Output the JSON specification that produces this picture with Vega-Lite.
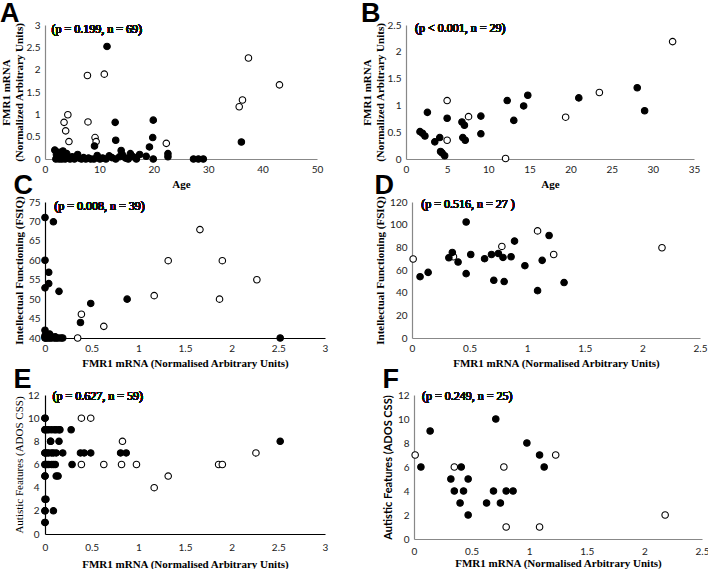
{
  "$schema": "https://vega.github.io/schema/vega-lite/v6.json",
  "padding": {"left": 0, "top": 0, "right": 2, "bottom": 0},
  "background": "white",
  "datasets": {
    "A": [
      {"x": 7.8, "y": 1.87, "t": "open"}, {"x": 10.9, "y": 1.9, "t": "open"}, {"x": 37.4, "y": 2.26, "t": "open"},
      {"x": 43.1, "y": 1.66, "t": "open"}, {"x": 35.7, "y": 1.17, "t": "open"}, {"x": 36.3, "y": 1.32, "t": "open"},
      {"x": 4.2, "y": 0.99, "t": "open"}, {"x": 3.5, "y": 0.82, "t": "open"}, {"x": 3.8, "y": 0.63, "t": "open"},
      {"x": 4.4, "y": 0.39, "t": "open"}, {"x": 7.9, "y": 0.83, "t": "open"}, {"x": 9.2, "y": 0.48, "t": "open"},
      {"x": 9.4, "y": 0.39, "t": "open"}, {"x": 22.3, "y": 0.35, "t": "open"},
      {"x": 11.4, "y": 2.52, "t": "filled"}, {"x": 12.9, "y": 0.82, "t": "filled"}, {"x": 13.0, "y": 0.42, "t": "filled"},
      {"x": 19.9, "y": 0.87, "t": "filled"}, {"x": 19.8, "y": 0.48, "t": "filled"}, {"x": 19.2, "y": 0.27, "t": "filled"},
      {"x": 36.1, "y": 0.38, "t": "filled"}, {"x": 9.1, "y": 0.29, "t": "filled"}, {"x": 14.0, "y": 0.19, "t": "filled"},
      {"x": 22.6, "y": 0.12, "t": "filled"}, {"x": 22.6, "y": 0.05, "t": "filled"}, {"x": 19.9, "y": 0.0, "t": "filled"},
      {"x": 27.3, "y": 0.0, "t": "filled"}, {"x": 28.2, "y": 0.0, "t": "filled"}, {"x": 29.1, "y": 0.0, "t": "filled"},
      {"x": 1.8, "y": 0.2, "t": "filled"}, {"x": 2.0, "y": 0.0, "t": "filled"}, {"x": 2.1, "y": 0.1, "t": "filled"},
      {"x": 2.3, "y": 0.05, "t": "filled"}, {"x": 2.5, "y": 0.15, "t": "filled"}, {"x": 2.6, "y": 0.0, "t": "filled"},
      {"x": 2.9, "y": 0.08, "t": "filled"}, {"x": 3.1, "y": 0.0, "t": "filled"}, {"x": 3.3, "y": 0.18, "t": "filled"},
      {"x": 3.5, "y": 0.05, "t": "filled"}, {"x": 3.7, "y": 0.0, "t": "filled"}, {"x": 4.0, "y": 0.12, "t": "filled"},
      {"x": 4.2, "y": 0.02, "t": "filled"}, {"x": 4.6, "y": 0.0, "t": "filled"}, {"x": 5.0, "y": 0.05, "t": "filled"},
      {"x": 5.4, "y": 0.0, "t": "filled"}, {"x": 6.0, "y": 0.1, "t": "filled"}, {"x": 6.3, "y": 0.02, "t": "filled"},
      {"x": 6.7, "y": 0.0, "t": "filled"}, {"x": 7.1, "y": 0.03, "t": "filled"}, {"x": 7.5, "y": 0.0, "t": "filled"},
      {"x": 8.0, "y": 0.02, "t": "filled"}, {"x": 8.4, "y": 0.0, "t": "filled"}, {"x": 9.0, "y": 0.0, "t": "filled"},
      {"x": 9.6, "y": 0.08, "t": "filled"}, {"x": 10.1, "y": 0.0, "t": "filled"}, {"x": 10.6, "y": 0.02, "t": "filled"},
      {"x": 11.2, "y": 0.0, "t": "filled"}, {"x": 11.8, "y": 0.07, "t": "filled"}, {"x": 12.3, "y": 0.03, "t": "filled"},
      {"x": 13.0, "y": 0.0, "t": "filled"}, {"x": 13.7, "y": 0.05, "t": "filled"}, {"x": 14.2, "y": 0.1, "t": "filled"},
      {"x": 14.8, "y": 0.02, "t": "filled"}, {"x": 15.3, "y": 0.0, "t": "filled"}, {"x": 15.7, "y": 0.12, "t": "filled"},
      {"x": 16.2, "y": 0.05, "t": "filled"}, {"x": 16.8, "y": 0.0, "t": "filled"}, {"x": 17.4, "y": 0.1, "t": "filled"},
      {"x": 18.6, "y": 0.06, "t": "filled"}
    ],
    "B": [
      {"x": 32.4, "y": 2.19, "t": "open"}, {"x": 23.5, "y": 1.24, "t": "open"}, {"x": 19.4, "y": 0.78, "t": "open"},
      {"x": 5.0, "y": 1.09, "t": "open"}, {"x": 7.6, "y": 0.79, "t": "open"}, {"x": 5.0, "y": 0.35, "t": "open"},
      {"x": 12.1, "y": 0.01, "t": "open"},
      {"x": 1.7, "y": 0.51, "t": "filled"}, {"x": 2.0, "y": 0.48, "t": "filled"}, {"x": 2.3, "y": 0.43, "t": "filled"},
      {"x": 2.6, "y": 0.87, "t": "filled"}, {"x": 3.5, "y": 0.32, "t": "filled"}, {"x": 4.1, "y": 0.4, "t": "filled"},
      {"x": 4.2, "y": 0.14, "t": "filled"}, {"x": 4.4, "y": 0.11, "t": "filled"}, {"x": 4.7, "y": 0.06, "t": "filled"},
      {"x": 5.0, "y": 0.76, "t": "filled"}, {"x": 6.8, "y": 0.69, "t": "filled"}, {"x": 7.1, "y": 0.63, "t": "filled"},
      {"x": 6.9, "y": 0.4, "t": "filled"}, {"x": 7.2, "y": 0.35, "t": "filled"}, {"x": 9.1, "y": 0.8, "t": "filled"},
      {"x": 9.1, "y": 0.47, "t": "filled"}, {"x": 12.3, "y": 1.09, "t": "filled"}, {"x": 13.1, "y": 0.72, "t": "filled"},
      {"x": 14.3, "y": 0.99, "t": "filled"}, {"x": 14.8, "y": 1.19, "t": "filled"}, {"x": 21.0, "y": 1.14, "t": "filled"},
      {"x": 28.1, "y": 1.33, "t": "filled"}, {"x": 29.0, "y": 0.9, "t": "filled"}
    ],
    "C": [
      {"x": 1.66, "y": 67.9, "t": "open"}, {"x": 1.32, "y": 59.9, "t": "open"}, {"x": 1.9, "y": 59.9, "t": "open"},
      {"x": 2.27, "y": 55.0, "t": "open"}, {"x": 1.17, "y": 50.9, "t": "open"}, {"x": 1.87, "y": 50.0, "t": "open"},
      {"x": 0.39, "y": 46.1, "t": "open"}, {"x": 0.63, "y": 43.0, "t": "open"}, {"x": 0.35, "y": 40.0, "t": "open"},
      {"x": 0.0, "y": 71.0, "t": "filled"}, {"x": 0.09, "y": 69.9, "t": "filled"}, {"x": 0.0, "y": 60.0, "t": "filled"},
      {"x": 0.04, "y": 56.9, "t": "filled"}, {"x": 0.04, "y": 54.0, "t": "filled"}, {"x": 0.0, "y": 52.9, "t": "filled"},
      {"x": 0.15, "y": 52.0, "t": "filled"}, {"x": 0.49, "y": 48.9, "t": "filled"}, {"x": 0.88, "y": 50.0, "t": "filled"},
      {"x": 0.38, "y": 44.0, "t": "filled"}, {"x": 0.0, "y": 42.0, "t": "filled"}, {"x": 0.05, "y": 41.0, "t": "filled"},
      {"x": 2.52, "y": 40.0, "t": "filled"},
      {"x": 0.0, "y": 40.0, "t": "filled"}, {"x": 0.0, "y": 40.3, "t": "filled"}, {"x": 0.0, "y": 40.6, "t": "filled"},
      {"x": 0.01, "y": 40.0, "t": "filled"}, {"x": 0.02, "y": 40.2, "t": "filled"}, {"x": 0.03, "y": 40.0, "t": "filled"},
      {"x": 0.04, "y": 40.4, "t": "filled"}, {"x": 0.05, "y": 40.0, "t": "filled"}, {"x": 0.06, "y": 40.5, "t": "filled"},
      {"x": 0.07, "y": 40.0, "t": "filled"}, {"x": 0.08, "y": 40.2, "t": "filled"}, {"x": 0.1, "y": 40.0, "t": "filled"},
      {"x": 0.11, "y": 40.3, "t": "filled"}, {"x": 0.12, "y": 40.0, "t": "filled"}, {"x": 0.14, "y": 40.0, "t": "filled"},
      {"x": 0.17, "y": 40.0, "t": "filled"}, {"x": 0.19, "y": 40.0, "t": "filled"}
    ],
    "D": [
      {"x": 0.01, "y": 69.7, "t": "open"}, {"x": 1.09, "y": 94.5, "t": "open"}, {"x": 0.78, "y": 80.8, "t": "open"},
      {"x": 1.23, "y": 73.7, "t": "open"}, {"x": 2.17, "y": 79.6, "t": "open"}, {"x": 0.36, "y": 71.7, "t": "open"},
      {"x": 0.07, "y": 54.1, "t": "filled"}, {"x": 0.14, "y": 57.9, "t": "filled"}, {"x": 0.32, "y": 70.8, "t": "filled"},
      {"x": 0.35, "y": 75.5, "t": "filled"}, {"x": 0.4, "y": 67.0, "t": "filled"}, {"x": 0.47, "y": 102.4, "t": "filled"},
      {"x": 0.47, "y": 56.8, "t": "filled"}, {"x": 0.51, "y": 73.7, "t": "filled"}, {"x": 0.63, "y": 70.0, "t": "filled"},
      {"x": 0.69, "y": 73.7, "t": "filled"}, {"x": 0.71, "y": 50.9, "t": "filled"}, {"x": 0.75, "y": 74.6, "t": "filled"},
      {"x": 0.79, "y": 71.1, "t": "filled"}, {"x": 0.8, "y": 49.8, "t": "filled"}, {"x": 0.86, "y": 71.7, "t": "filled"},
      {"x": 0.89, "y": 85.5, "t": "filled"}, {"x": 0.98, "y": 63.8, "t": "filled"}, {"x": 1.09, "y": 41.8, "t": "filled"},
      {"x": 1.13, "y": 68.5, "t": "filled"}, {"x": 1.19, "y": 90.4, "t": "filled"}, {"x": 1.32, "y": 48.9, "t": "filled"}
    ],
    "E": [
      {"x": 0.39, "y": 10, "t": "open"}, {"x": 0.49, "y": 10, "t": "open"}, {"x": 0.83, "y": 8, "t": "open"},
      {"x": 0.39, "y": 6, "t": "open"}, {"x": 0.63, "y": 6, "t": "open"}, {"x": 0.82, "y": 6, "t": "open"},
      {"x": 0.98, "y": 6, "t": "open"}, {"x": 1.86, "y": 6, "t": "open"}, {"x": 1.9, "y": 6, "t": "open"},
      {"x": 2.26, "y": 7, "t": "open"}, {"x": 1.32, "y": 5, "t": "open"}, {"x": 1.17, "y": 4, "t": "open"},
      {"x": 0.0, "y": 10, "t": "filled"},
      {"x": 0.0, "y": 9, "t": "filled"}, {"x": 0.04, "y": 9, "t": "filled"}, {"x": 0.07, "y": 9, "t": "filled"},
      {"x": 0.12, "y": 9, "t": "filled"}, {"x": 0.15, "y": 9, "t": "filled"}, {"x": 0.28, "y": 9, "t": "filled"},
      {"x": 0.06, "y": 8, "t": "filled"}, {"x": 0.15, "y": 8, "t": "filled"}, {"x": 2.52, "y": 8, "t": "filled"},
      {"x": 0.0, "y": 7, "t": "filled"}, {"x": 0.04, "y": 7, "t": "filled"}, {"x": 0.07, "y": 7, "t": "filled"},
      {"x": 0.12, "y": 7, "t": "filled"}, {"x": 0.19, "y": 7, "t": "filled"}, {"x": 0.38, "y": 7, "t": "filled"},
      {"x": 0.42, "y": 7, "t": "filled"}, {"x": 0.49, "y": 7, "t": "filled"}, {"x": 0.81, "y": 7, "t": "filled"},
      {"x": 0.87, "y": 7, "t": "filled"},
      {"x": 0.0, "y": 6, "t": "filled"}, {"x": 0.04, "y": 6, "t": "filled"}, {"x": 0.07, "y": 6, "t": "filled"},
      {"x": 0.11, "y": 6, "t": "filled"}, {"x": 0.29, "y": 6, "t": "filled"},
      {"x": 0.0, "y": 5, "t": "filled"}, {"x": 0.12, "y": 5, "t": "filled"}, {"x": 0.14, "y": 5, "t": "filled"},
      {"x": 0.0, "y": 3, "t": "filled"}, {"x": 0.0, "y": 2, "t": "filled"}, {"x": 0.09, "y": 2, "t": "filled"},
      {"x": 0.0, "y": 1, "t": "filled"},
      {"x": 0.0, "y": 10, "t": "filled"}, {"x": 0.0, "y": 9, "t": "filled"}, {"x": 0.02, "y": 9, "t": "filled"},
      {"x": 0.1, "y": 9, "t": "filled"}, {"x": 0.0, "y": 7, "t": "filled"}, {"x": 0.02, "y": 7, "t": "filled"},
      {"x": 0.09, "y": 7, "t": "filled"}, {"x": 0.0, "y": 6, "t": "filled"}, {"x": 0.02, "y": 6, "t": "filled"},
      {"x": 0.09, "y": 6, "t": "filled"}, {"x": 0.0, "y": 5, "t": "filled"}, {"x": 0.0, "y": 2, "t": "filled"},
      {"x": 0.01, "y": 3, "t": "filled"}, {"x": 0.0, "y": 1, "t": "filled"}, {"x": 0.06, "y": 8, "t": "filled"},
      {"x": 0.16, "y": 9, "t": "filled"}
    ],
    "F": [
      {"x": 0.01, "y": 7, "t": "open"}, {"x": 0.35, "y": 6, "t": "open"}, {"x": 0.78, "y": 6, "t": "open"},
      {"x": 1.23, "y": 7, "t": "open"}, {"x": 0.8, "y": 1, "t": "open"}, {"x": 1.09, "y": 1, "t": "open"},
      {"x": 2.18, "y": 2, "t": "open"},
      {"x": 0.14, "y": 9, "t": "filled"}, {"x": 0.06, "y": 6, "t": "filled"}, {"x": 0.32, "y": 5, "t": "filled"},
      {"x": 0.35, "y": 4, "t": "filled"}, {"x": 0.41, "y": 6, "t": "filled"}, {"x": 0.4, "y": 3, "t": "filled"},
      {"x": 0.43, "y": 4, "t": "filled"}, {"x": 0.47, "y": 2, "t": "filled"}, {"x": 0.47, "y": 5, "t": "filled"},
      {"x": 0.63, "y": 3, "t": "filled"}, {"x": 0.69, "y": 4, "t": "filled"}, {"x": 0.71, "y": 10, "t": "filled"},
      {"x": 0.75, "y": 3, "t": "filled"}, {"x": 0.8, "y": 4, "t": "filled"}, {"x": 0.86, "y": 4, "t": "filled"},
      {"x": 0.98, "y": 8, "t": "filled"}, {"x": 1.09, "y": 7, "t": "filled"}, {"x": 1.13, "y": 6, "t": "filled"}
    ]
  },
  "vconcat": [
    {
      "vconcat": [
        {
          "hconcat": [
            {
              "title": {"text": "A"},
              "width": 272, "height": 134,
              "data": {"name": "A"},
              "layer": [
                {
                  "mark": {"type": "point", "shape": "circle", "filled": true, "stroke": "black", "strokeWidth": 1.1, "size": 42, "opacity": 1},
                  "encoding": {
                    "x": {"field": "x", "type": "quantitative", "scale": {"domain": [0, 50], "nice": false}, "axis": {"values": [0, 10, 20, 30, 40, 50], "tickCount": 30, "format": "~r", "title": "Age"}},
                    "y": {"field": "y", "type": "quantitative", "scale": {"domain": [0, 3], "nice": false}, "axis": {"values": [0, 0.5, 1, 1.5, 2, 2.5, 3], "tickCount": 30, "format": "~r", "title": ["FMR1 mRNA", "(Normalized Arbitrary Units)"], "titlePadding": 2}},
                    "fill": {"field": "t", "type": "nominal", "scale": {"domain": ["filled", "open"], "range": ["black", "white"]}, "legend": null}
                  }
                },
                {
                  "mark": {"type": "text", "align": "left", "baseline": "middle", "font": "Liberation Serif", "fontSize": 12, "fontWeight": "normal", "color": "#111"},
                  "encoding": {"x": {"datum": 1.2}, "y": {"datum": 2.92}, "text": {"value": "(p = 0.199, n = 69)"}}
                }
              ]
            },
            {
              "title": {"text": "B"},
              "width": 288, "height": 134,
              "data": {"name": "B"},
              "layer": [
                {
                  "mark": {"type": "point", "shape": "circle", "filled": true, "stroke": "black", "strokeWidth": 1.1, "size": 42, "opacity": 1},
                  "encoding": {
                    "x": {"field": "x", "type": "quantitative", "scale": {"domain": [0, 35], "nice": false}, "axis": {"values": [0, 5, 10, 15, 20, 25, 30, 35], "tickCount": 30, "format": "~r", "title": "Age"}},
                    "y": {"field": "y", "type": "quantitative", "scale": {"domain": [0, 2.5], "nice": false}, "axis": {"values": [0, 0.5, 1, 1.5, 2, 2.5], "tickCount": 30, "format": "~r", "title": ["FMR1 mRNA", "(Normalized Arbitrary Units)"], "titlePadding": 2}},
                    "fill": {"field": "t", "type": "nominal", "scale": {"domain": ["filled", "open"], "range": ["black", "white"]}, "legend": null}
                  }
                },
                {
                  "mark": {"type": "text", "align": "left", "baseline": "middle", "font": "Liberation Serif", "fontSize": 12, "fontWeight": "normal", "color": "#111"},
                  "encoding": {"x": {"datum": 1.1}, "y": {"datum": 2.45}, "text": {"value": "(p < 0.001, n = 29)"}}
                }
              ]
            }
          ],
          "spacing": 38
        },
        {
          "hconcat": [
            {
              "title": {"text": "C", "offset": -4},
              "width": 280, "height": 136,
              "data": {"name": "C"},
              "layer": [
                {
                  "mark": {"type": "point", "shape": "circle", "filled": true, "stroke": "black", "strokeWidth": 1.1, "size": 42, "opacity": 1},
                  "encoding": {
                    "x": {"field": "x", "type": "quantitative", "scale": {"domain": [0, 3], "nice": false}, "axis": {"values": [0, 0.5, 1, 1.5, 2, 2.5, 3], "tickCount": 30, "format": "~r", "title": "FMR1 mRNA (Normalised Arbitrary Units)", "domainColor": "black"}},
                    "y": {"field": "y", "type": "quantitative", "scale": {"domain": [40, 75], "nice": false, "zero": false}, "axis": {"values": [40, 45, 50, 55, 60, 65, 70, 75], "tickCount": 30, "format": "~r", "title": "Intellectual Functioning (FSIQ)", "domainColor": "black", "labelPadding": 5, "titlePadding": 4}},
                    "fill": {"field": "t", "type": "nominal", "scale": {"domain": ["filled", "open"], "range": ["black", "white"]}, "legend": null}
                  }
                },
                {
                  "mark": {"type": "text", "align": "left", "baseline": "middle", "font": "Liberation Serif", "fontSize": 12, "fontWeight": "normal", "color": "#111"},
                  "encoding": {"x": {"datum": 0.1}, "y": {"datum": 74}, "text": {"value": "(p = 0.008, n = 39)"}}
                }
              ]
            },
            {
              "title": {"text": "D", "offset": -4},
              "width": 288, "height": 136,
              "data": {"name": "D"},
              "layer": [
                {
                  "mark": {"type": "point", "shape": "circle", "filled": true, "stroke": "black", "strokeWidth": 1.1, "size": 42, "opacity": 1},
                  "encoding": {
                    "x": {"field": "x", "type": "quantitative", "scale": {"domain": [0, 2.5], "nice": false}, "axis": {"values": [0, 0.5, 1, 1.5, 2, 2.5], "tickCount": 30, "format": "~r", "title": "FMR1 mRNA (Normalised Arbitrary Units)"}},
                    "y": {"field": "y", "type": "quantitative", "scale": {"domain": [0, 120], "nice": false}, "axis": {"values": [0, 20, 40, 60, 80, 100, 120], "tickCount": 30, "format": "~r", "title": "Intellectual Functioning (FSIQ)"}},
                    "fill": {"field": "t", "type": "nominal", "scale": {"domain": ["filled", "open"], "range": ["black", "white"]}, "legend": null}
                  }
                },
                {
                  "mark": {"type": "text", "align": "left", "baseline": "middle", "font": "Liberation Serif", "fontSize": 12, "fontWeight": "normal", "color": "#111"},
                  "encoding": {"x": {"datum": 0.08}, "y": {"datum": 118}, "text": {"value": "(p = 0.516, n = 27 )"}}
                }
              ]
            }
          ],
          "spacing": 46
        }
      ],
      "spacing": -18
    },
    {
      "hconcat": [
        {
          "title": {"text": "E", "offset": -4},
          "width": 280, "height": 139,
          "data": {"name": "E"},
          "layer": [
            {
              "mark": {"type": "point", "shape": "circle", "filled": true, "stroke": "black", "strokeWidth": 1.1, "size": 42, "opacity": 1},
              "encoding": {
                "x": {"field": "x", "type": "quantitative", "scale": {"domain": [0, 3], "nice": false}, "axis": {"values": [0, 0.5, 1, 1.5, 2, 2.5, 3], "tickCount": 30, "format": "~r", "title": "FMR1 mRNA (Normalised Arbitrary Units)", "domainColor": "black", "labelPadding": 8, "titlePadding": 6}},
                "y": {"field": "y", "type": "quantitative", "scale": {"domain": [0, 12], "nice": false}, "axis": {"values": [0, 2, 4, 6, 8, 10, 12], "tickCount": 30, "format": "~r", "title": "Autistic Features (ADOS CSS)", "domainColor": "black", "titleFontWeight": "normal", "labelPadding": 6, "titlePadding": 3}},
                "fill": {"field": "t", "type": "nominal", "scale": {"domain": ["filled", "open"], "range": ["black", "white"]}, "legend": null}
              }
            },
            {
              "mark": {"type": "text", "align": "left", "baseline": "middle", "font": "Liberation Serif", "fontSize": 12, "fontWeight": "normal", "color": "#111"},
              "encoding": {"x": {"datum": 0.08}, "y": {"datum": 11.9}, "text": {"value": "(p = 0.627, n =  59)"}}
            }
          ]
        },
        {
          "title": {"text": "F", "offset": -4},
          "width": 288, "height": 144,
          "data": {"name": "F"},
          "layer": [
            {
              "mark": {"type": "point", "shape": "circle", "filled": true, "stroke": "black", "strokeWidth": 1.1, "size": 42, "opacity": 1},
              "encoding": {
                "x": {"field": "x", "type": "quantitative", "scale": {"domain": [0, 2.5], "nice": false}, "axis": {"values": [0, 0.5, 1, 1.5, 2, 2.5], "tickCount": 30, "format": "~r", "title": "FMR1 mRNA (Normalised Arbitrary Units)", "labelPadding": 7, "titlePadding": 1}},
                "y": {"field": "y", "type": "quantitative", "scale": {"domain": [0, 12], "nice": false}, "axis": {"values": [0, 2, 4, 6, 8, 10, 12], "tickCount": 30, "format": "~r", "title": "Autistic Features (ADOS CSS)", "titleFont": "Lato"}},
                "fill": {"field": "t", "type": "nominal", "scale": {"domain": ["filled", "open"], "range": ["black", "white"]}, "legend": null}
              }
            },
            {
              "mark": {"type": "text", "align": "left", "baseline": "middle", "font": "Liberation Serif", "fontSize": 12, "fontWeight": "normal", "color": "#111"},
              "encoding": {"x": {"datum": 0.07}, "y": {"datum": 11.9}, "text": {"value": "(p = 0.249, n = 25)"}}
            }
          ]
        }
      ],
      "spacing": 54
    }
  ],
  "spacing": -2,
  "config": {
    "view": {"stroke": null},
    "axis": {
      "grid": false,
      "ticks": false,
      "labelFont": "Lato",
      "labelFontSize": 10,
      "labelColor": "#222",
      "labelPadding": 5,
      "labelOverlap": false,
      "labelFlush": false,
      "labelBound": false,
      "titleFont": "Liberation Serif",
      "titleFontWeight": "bold",
      "titleFontSize": 11,
      "titleColor": "black",
      "titlePadding": 4,
      "domainColor": "#888",
      "domainWidth": 1.2
    },
    "title": {
      "anchor": "start",
      "frame": "bounds",
      "font": "Liberation Sans",
      "fontWeight": "bold",
      "fontSize": 27,
      "color": "black",
      "offset": -8
    }
  }
}
